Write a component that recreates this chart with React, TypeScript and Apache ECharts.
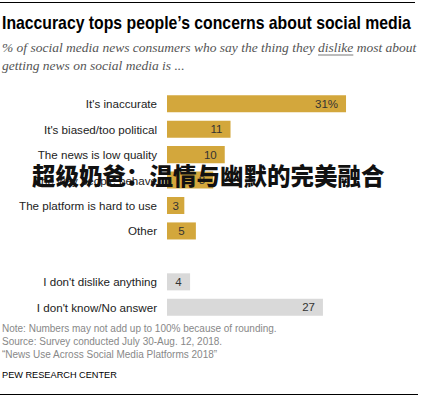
import React, { useEffect, useRef } from "react";
import * as echarts from "echarts";

const concernLabels = [
  "It's inaccurate",
  "It's biased/too political",
  "The news is low quality",
  "The way people behave",
  "The platform is hard to use",
  "Other",
];
const concernValues = [31, 11, 10, 8, 3, 5];
const noConcernLabels = ["I don't dislike anything", "I don't know/No answer"];
const noConcernValues = [4, 27];

const titleText = "Inaccuracy tops people\u2019s concerns about social media";
const subPre = "% of social media news consumers who say the thing they ";
const subWord = "dislike";
const subPost = " most about";
const subLine2 = "getting news on social media is ...";
const footLines = [
  "Note: Numbers may not add up to 100% because of rounding.",
  "Source: Survey conducted July 30-Aug. 12, 2018.",
  "\u201cNews Use Across Social Media Platforms 2018\u201d",
];
const sourceLabel = "PEW RESEARCH CENTER";
const overlayText = "超级奶爸：温情与幽默的完美融合";

const GOLD = "#d3a73c";
const GRAY = "#d9d9d9";
const SANS = "'Liberation Sans', Arial, sans-serif";
const SERIF = "'Liberation Serif', 'DejaVu Serif', serif";

function measure(text: string, font: string): number {
  const c = document.createElement("canvas").getContext("2d");
  if (!c) return text.length * 6;
  c.font = font;
  return c.measureText(text).width;
}

export default function App() {
  const ref = useRef<HTMLDivElement>(null);
  useEffect(() => {
    if (!ref.current) return;
    const chart = echarts.init(ref.current, undefined, { renderer: "svg" });
    const categories = [...concernLabels, "", ...noConcernLabels];
    const lab = (v: number) => ({
      value: v,
      label: { position: v < 7 ? "inside" : "insideRight" },
    });
    const s1 = [
      ...concernValues.map(lab),
      "-",
      ...noConcernLabels.map(() => "-"),
    ];
    const s2 = [
      ...concernLabels.map(() => "-"),
      "-",
      ...noConcernValues.map(lab),
    ];
    const subFontSize = 13.5;
    const subFont = `italic ${subFontSize}px ${SERIF}`;
    const preW = measure(subPre, subFont);
    const wordW = measure(subWord, subFont);
    const subX = 2;

    const titleSize = 17.5;
    const titleW = measure(titleText, `bold ${titleSize}px ${SANS}`);
    const titleScale = titleW > 0 ? 409 / titleW : 1;

    const labelStyle = {
      show: true,
      distance: 8,
      color: "#333",
      fontSize: 11.5,
      fontFamily: SANS,
      formatter: (p: any) => (p.dataIndex === 0 ? p.value + "%" : String(p.value)),
    };

    chart.setOption({
      animation: false,
      grid: { left: 167, top: 91, height: 229, width: 231 },
      xAxis: { type: "value", min: 0, max: 40, show: false },
      yAxis: {
        type: "category",
        inverse: true,
        data: categories,
        axisLine: { show: false },
        axisTick: { show: false },
        splitLine: { show: false },
        axisLabel: { margin: 10, color: "#222", fontSize: 11.6, fontFamily: SANS },
      },
      series: [
        {
          type: "bar",
          data: s1,
          barCategoryGap: "33%",
          barGap: "-100%",
          itemStyle: { color: GOLD },
          label: labelStyle,
        },
        {
          type: "bar",
          data: s2,
          barCategoryGap: "33%",
          barGap: "-100%",
          itemStyle: { color: GRAY },
          label: labelStyle,
        },
      ],
      graphic: [
        { type: "line", shape: { x1: 0, y1: 2.5, x2: 415, y2: 2.5 }, style: { stroke: "#000", lineWidth: 1.2 } },
        { type: "line", shape: { x1: 0, y1: 394.5, x2: 418, y2: 394.5 }, style: { stroke: "#000", lineWidth: 1.2 } },
        {
          type: "text",
          x: 2,
          y: 23,
          scaleX: titleScale,
          style: { text: titleText, fontSize: titleSize, fontWeight: "bold", fontFamily: SANS, fill: "#000", verticalAlign: "middle" },
        },
        {
          type: "text",
          x: subX,
          y: 47.5,
          style: { text: subPre + subWord + subPost, font: subFont, fill: "#555", verticalAlign: "middle" },
        },
        {
          type: "line",
          shape: { x1: subX + preW, y1: 55, x2: subX + preW + wordW, y2: 55 },
          style: { stroke: "#555", lineWidth: 0.8 },
        },
        {
          type: "text",
          x: subX,
          y: 65.5,
          style: { text: subLine2, font: subFont, fill: "#555", verticalAlign: "middle" },
        },
        ...footLines.map((t, i) => ({
          type: "text",
          x: 2,
          y: 328 + i * 13,
          style: { text: t, fontSize: 10, fontFamily: SANS, fill: "#888", verticalAlign: "middle" },
        })),
        {
          type: "text",
          x: 2,
          y: 375,
          style: { text: sourceLabel, fontSize: 9.2, fontFamily: SANS, fill: "#000", verticalAlign: "middle" },
        },
        {
          type: "text",
          x: 32,
          y: 174.5,
          z: 100,
          style: {
            text: overlayText,
            fontSize: 23.5,
            fontWeight: 900,
            fontFamily: "'Noto Sans CJK SC', sans-serif",
            fill: "#111",
            verticalAlign: "middle",
          },
        },
      ],
    });
    return () => chart.dispose();
  }, []);
  return (
    <div
      ref={ref}
      style={{ position: "fixed", left: 0, top: 0, width: 422, height: 397, background: "#fff" }}
    />
  );
}
